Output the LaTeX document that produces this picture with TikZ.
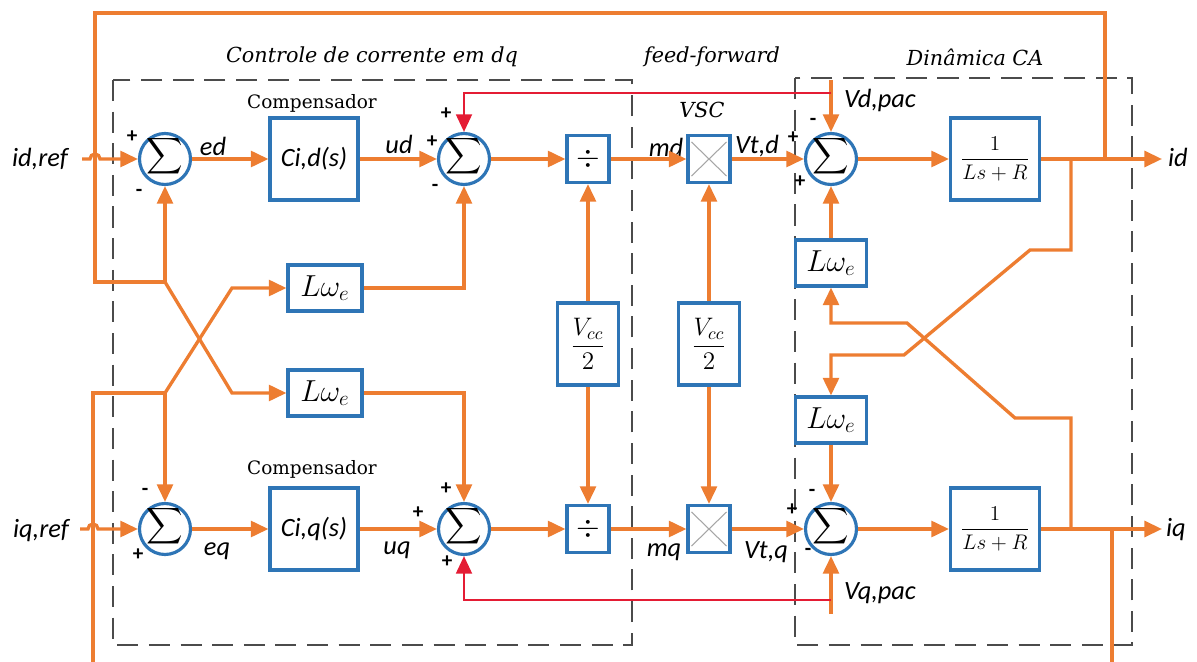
\documentclass[tikz,border=0pt]{standalone}
\usepackage{amsmath}
\usepackage{fontspec}
\newfontfamily\sinalfonte{Carlito}
\newfontfamily\titulofonte{DejaVu Serif}
\usetikzlibrary{arrows.meta,calc}

\definecolor{laranja}{RGB}{237,125,49}
\definecolor{azul}{RGB}{46,117,182}
\definecolor{vermelho}{RGB}{228,28,52}
\definecolor{cinza}{RGB}{75,75,75}

\tikzset{
  fio/.style={draw=laranja, line width=1.9pt},
  seta/.style={fio, -{Triangle[length=10pt,width=9pt]}},
  fiovermelho/.style={draw=vermelho, line width=1.4pt},
  setavermelha/.style={fiovermelho, -{Triangle[length=10pt,width=9pt]}},
  bloco/.style={draw=azul, line width=1.8pt, fill=white, inner sep=0pt},
  soma/.style={circle, draw=azul, line width=1.8pt, fill=white, minimum size=1.02cm, inner sep=0pt},
  rotulo/.style={font=\sinalfonte\itshape\fontsize{15}{16}\selectfont, inner sep=0pt},
  titulo/.style={font=\titulofonte\itshape\fontsize{11.8}{13}\selectfont, inner sep=0pt},
  sinalop/.style={font=\sinalfonte\bfseries\fontsize{12}{12}\selectfont, inner sep=0pt},
  regiao/.style={draw=cinza, line width=1.6pt, dash pattern=on 12pt off 6pt},
  multx/.style={draw=gray!70, line width=0.6pt},
}

\newcommand{\somatorio}{\fontsize{15}{15}\selectfont\raisebox{-0.25em}{\smash{\makebox[0pt]{$\displaystyle\sum$}}}}
\newcommand{\lwe}{\fontsize{17}{18}\selectfont$L\omega_e$}
\newcommand{\vccmeio}{\fontsize{14}{16}\selectfont$\dfrac{V_{cc}}{2}$}
\newcommand{\planta}{\fontsize{12.5}{14}\selectfont$\dfrac{1}{Ls+R}$}

\begin{document}
\begin{tikzpicture}[x=0.02cm,y=-0.02cm]
  \useasboundingbox (0,0) rectangle (1197,662);

  % Regioes
  \draw[regiao] (113,80) rectangle (632,645);
  \draw[regiao] (795,78) rectangle (1132,645);
  \node[titulo] (tcc) at (372,57) {Controle de corrente em dq};
  \node[titulo] (tff) at (712,57) {feed-forward};
  \node[titulo] (tca) at (975,57) {Dinâmica CA};
  \node[titulo] (tvsc) at (702,110) {VSC};
  \node[font=\titulofonte\fontsize{10.5}{12}\selectfont, inner sep=0pt] (compd) at (312,103) {Compensador};
  \node[font=\titulofonte\fontsize{10.5}{12}\selectfont, inner sep=0pt] (compq) at (312,469) {Compensador};

  % Eixo d
  \node[soma] (sd1) at (165,159) {\somatorio};
  \node[bloco, minimum width=1.76cm, minimum height=1.64cm, rotulo] (cd) at (314,159) {Ci,d(s)};
  \node[soma] (sd2) at (464,159) {\somatorio};
  \node[bloco, minimum width=0.84cm, minimum height=0.94cm] (dd) at (588,159) {\fontsize{18}{18}\selectfont$\div$};
  \node[bloco, minimum width=0.84cm, minimum height=0.94cm] (md) at (709,159) {};
  \node[soma] (sd3) at (831,159) {\somatorio};
  \node[bloco, minimum width=1.78cm, minimum height=1.64cm] (pd) at (995,159) {\planta};

  % Eixo q
  \node[soma] (sq1) at (165,529) {\somatorio};
  \node[bloco, minimum width=1.76cm, minimum height=1.64cm, rotulo] (cq) at (314,529) {Ci,q(s)};
  \node[soma] (sq2) at (464,529) {\somatorio};
  \node[bloco, minimum width=0.84cm, minimum height=0.94cm] (dq) at (588,529) {\fontsize{18}{18}\selectfont$\div$};
  \node[bloco, minimum width=0.84cm, minimum height=0.94cm] (mq) at (709,529) {};
  \node[soma] (sq3) at (831,529) {\somatorio};
  \node[bloco, minimum width=1.78cm, minimum height=1.64cm] (pq) at (995,529) {\planta};

  % Acoplamentos e Vcc/2
  \node[bloco, minimum width=1.48cm, minimum height=0.92cm] (lwd) at (325,288) {\lwe};
  \node[bloco, minimum width=1.48cm, minimum height=0.92cm] (lwq) at (325,393) {\lwe};
  \node[bloco, minimum width=1.42cm, minimum height=0.92cm] (lwcd) at (831,263) {\lwe};
  \node[bloco, minimum width=1.42cm, minimum height=0.92cm] (lwcq) at (831,420) {\lwe};
  \node[bloco, minimum width=1.22cm, minimum height=1.64cm] (vccd) at (588,344) {\vccmeio};
  \node[bloco, minimum width=1.22cm, minimum height=1.64cm] (vccm) at (709,344) {\vccmeio};

  % Multiplicadores
  \draw[multx] ($(md.north west)+(5,8)$) -- ($(md.south east)+(-5,-8)$);
  \draw[multx] ($(md.north east)+(-5,8)$) -- ($(md.south west)+(5,-8)$);
  \draw[multx] ($(mq.north west)+(5,8)$) -- ($(mq.south east)+(-5,-8)$);
  \draw[multx] ($(mq.north east)+(-5,8)$) -- ($(mq.south west)+(5,-8)$);

  % Sinais
  \node[rotulo] (idref) at (40,159) {id,ref};
  \node[rotulo] (iqref) at (41,531) {iq,ref};
  \node[rotulo] (ed) at (213,146) {ed};
  \node[rotulo] (ud) at (399,144) {ud};
  \node[rotulo] (mdl) at (666,147) {md};
  \node[rotulo] (vtd) at (757,146) {Vt,d};
  \node[rotulo] (vdpacl) at (880,100) {Vd,pac};
  \node[rotulo] (idl) at (1178,157) {id};
  \node[rotulo] (eq) at (217,551) {eq};
  \node[rotulo] (uq) at (397,550) {uq};
  \node[rotulo] (mql) at (664,552) {mq};
  \node[rotulo] (vtq) at (766,552) {Vt,q};
  \node[rotulo] (vqpacl) at (880,593) {Vq,pac};
  \node[rotulo] (iql) at (1176,530) {iq};

  % Pontos de ligacao
  \coordinate (entd) at (82,159);
  \coordinate (entq) at (80,529);
  \coordinate (jd) at (165,282);
  \coordinate (jq) at (165,393);
  \coordinate (jid) at (1105,159);
  \coordinate (jdcruz) at (1071,159);
  \coordinate (jqcruz) at (1071,529);
  \coordinate (jiq) at (1112,529);
  \coordinate (saidad) at (1162,159);
  \coordinate (saidaq) at (1162,529);
  \coordinate (vdpac) at (831,80);
  \coordinate (vqpac) at (831,614);

  % Cadeia direta
  \draw[seta] (entd) -- (90,159) arc[start angle=180, end angle=360, radius=5] -- (sd1);
  \draw[seta] (sd1) -- (cd);
  \draw[seta] (cd) -- (sd2);
  \draw[seta] (sd2) -- (dd);
  \draw[seta] (dd) -- (md);
  \draw[seta] (md) -- (sd3);
  \draw[seta] (sd3) -- (pd);
  \draw[seta] (pd) -- (saidad);

  \draw[seta] (entq) -- (88,529) arc[start angle=180, end angle=360, radius=5] -- (sq1);
  \draw[seta] (sq1) -- (cq);
  \draw[seta] (cq) -- (sq2);
  \draw[seta] (sq2) -- (dq);
  \draw[seta] (dq) -- (mq);
  \draw[seta] (mq) -- (sq3);
  \draw[seta] (sq3) -- (pq);
  \draw[seta] (pq) -- (saidaq);

  % Realimentacao de corrente
  \draw[fio] (jid) |- (95,13) -- (95,282) -- (jd);
  \draw[seta] (jd) -- (sd1);
  \draw[seta] (jd) -- (232,393) -- (lwq);
  \draw[fio] (jiq) -- (1112,662);
  \draw[fio] (93,662) -- (93,393) -- (jq);
  \draw[seta] (jq) -- (sq1);
  \draw[seta] (jq) -- (232,288) -- (lwd);
  \draw[seta] (lwd) -| (sd2);
  \draw[seta] (lwq) -| (sq2);

  % Vcc/2
  \draw[seta] (vccd) -- (dd);
  \draw[seta] (vccd) -- (dq);
  \draw[seta] (vccm) -- (md);
  \draw[seta] (vccm) -- (mq);

  % Dinamica CA
  \draw[seta] (lwcd) -- (sd3);
  \draw[seta] (lwcq) -- (sq3);
  \draw[seta] (jdcruz) -- (1071,250) -- (1030,250) -- (904,355) -- (831,355) -- (lwcq);
  \draw[seta] (jqcruz) -- (1071,418) -- (1015,418) -- (907,323) -- (831,323) -- (lwcd);
  \draw[seta] (vdpac) -- (sd3);
  \draw[seta] (vqpac) -- (sq3);
  \draw[setavermelha] (831,93) -| (sd2);
  \draw[setavermelha] (831,600) -| (sq2);

  % Sinais dos somadores
  \node[sinalop] (s1a) at (132,137) {+};
  \node[sinalop] (s1b) at (139,193) {-};
  \node[sinalop] (s2a) at (145,492) {-};
  \node[sinalop] (s2b) at (138,555) {+};
  \node[sinalop] (s3a) at (446,114) {+};
  \node[sinalop] (s3b) at (432,142) {+};
  \node[sinalop] (s3c) at (435,188) {-};
  \node[sinalop] (s4a) at (446,489) {+};
  \node[sinalop] (s4b) at (418,513) {+};
  \node[sinalop] (s4c) at (447,562) {+};
  \node[sinalop] (s5a) at (813,122) {-};
  \node[sinalop] (s5b) at (793,138) {+};
  \node[sinalop] (s5c) at (800,182) {+};
  \node[sinalop] (s6a) at (812,493) {-};
  \node[sinalop] (s6b) at (792,510) {+};
  \node[sinalop] (s6c) at (808,552) {-};
\end{tikzpicture}
\end{document}
